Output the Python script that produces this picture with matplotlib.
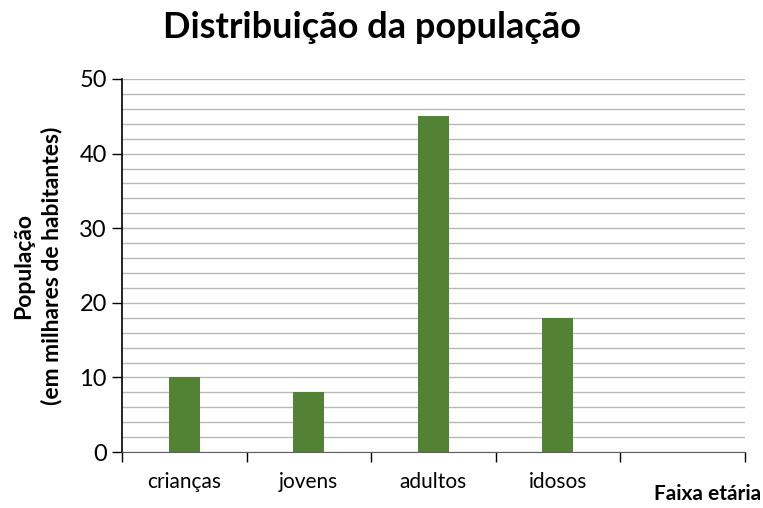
import matplotlib.pyplot as plt
from matplotlib.ticker import MultipleLocator

# dados
faixas = ["crianças", "jovens", "adultos", "idosos", ""]
populacao = [10, 8, 45, 18, None]

plt.rcParams['font.family'] = ['Lato', 'DejaVu Sans']

fig = plt.figure(figsize=(7.63, 5.08), dpi=100)
ax = fig.add_axes([0.16, 0.11, 0.816, 0.7345])

xs = range(len(faixas))
vals = [v if v is not None else 0 for v in populacao]
ax.bar(xs, vals, width=0.25, color="#548235", zorder=3)

ax.set_xlim(-0.5, len(faixas) - 0.5)
ax.set_ylim(0, 50)

# linhas de grade a cada 2
ax.yaxis.set_major_locator(MultipleLocator(10))
ax.yaxis.set_minor_locator(MultipleLocator(2))
ax.grid(axis="y", which="both", color="#b8b8b8", linewidth=1, zorder=0)
ax.tick_params(axis="y", which="minor", length=0)
ax.tick_params(axis="y", which="major", length=7, width=1, labelsize=17, pad=4)

# rótulos das categorias entre os ticks
ax.set_xticks([x + 0.5 for x in range(-1, len(faixas))])
ax.set_xticklabels([])
ax.set_xticks(list(xs), minor=True)
ax.set_xticklabels(faixas, minor=True, fontsize=15)
ax.tick_params(axis="x", which="major", length=7, width=1)
ax.tick_params(axis="x", which="minor", length=0, pad=14)

for s in ["top", "right"]:
    ax.spines[s].set_visible(False)
ax.spines["left"].set_linewidth(1.2)
ax.spines["bottom"].set_color("#606060")

ax.set_ylabel("População\n(em milhares de habitantes)", fontsize=16.5,
              fontweight="bold", labelpad=12, linespacing=1.35)
fig.text(0.487, 0.945, "Distribuição da população", ha="center", va="center",
         fontsize=26, fontweight="bold")
fig.text(0.997, 0.008, "Faixa etária", ha="right", va="bottom",
         fontsize=15, fontweight="bold")

plt.savefig("out.png")
